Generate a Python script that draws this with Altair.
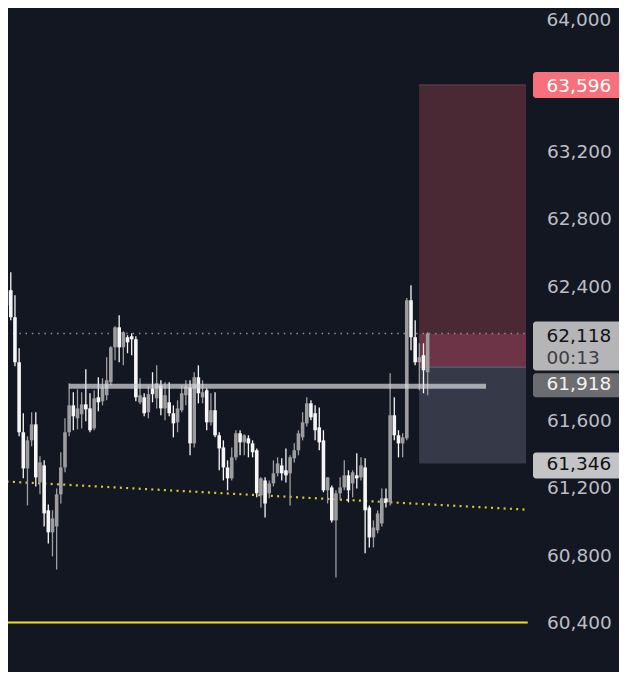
import altair as alt
import pandas as pd

# ---------------- data ----------------
opens = [62286, 62376, 62215, 61947, 61531, 61316, 61483, 61578, 61233, 61334,
         61067, 60936, 60971, 61162, 61322, 61531, 61691, 61614, 61638, 61697,
         61673, 61554, 61739, 61715, 61751, 61828, 62036, 62155, 62036, 62096,
         62102, 62084, 61709, 61739, 61650, 61792, 61733, 61810, 61673, 61709,
         61644, 61590, 61662, 61751, 61798, 61465, 61858, 61739, 61781, 61590,
         61662, 61513, 61441, 61322, 61257, 61382, 61525, 61471, 61495, 61465,
         61424, 61156, 61245, 61168, 61227, 61287, 61334, 61305, 61287, 61376,
         61424, 61501, 61584, 61703, 61644, 61560, 61483, 61186, 61203, 61007,
         61168, 61203, 61275, 61227, 61275, 61263, 61322, 61084, 60906, 60948,
         60989, 61138, 61114, 61632, 61513, 61465, 61495, 62316, 62096, 61947,
         61989, 61888]
closes = [62376, 62215, 61947, 61531, 61316, 61483, 61578, 61263, 61352, 61049,
          60936, 61019, 61162, 61322, 61531, 61691, 61626, 61673, 61697, 61667,
          61543, 61733, 61709, 61798, 61840, 62036, 62155, 62036, 62126, 62066,
          62084, 61739, 61751, 61644, 61757, 61757, 61822, 61673, 61751, 61644,
          61584, 61673, 61763, 61804, 61465, 61858, 61763, 61769, 61590, 61662,
          61513, 61435, 61322, 61257, 61382, 61525, 61471, 61513, 61465, 61412,
          61168, 61257, 61108, 61227, 61287, 61346, 61287, 61275, 61382, 61424,
          61525, 61590, 61703, 61620, 61543, 61471, 61186, 61263, 61007, 61168,
          61203, 61275, 61186, 61293, 61257, 61334, 61067, 60906, 60965, 61049,
          61138, 61114, 61632, 61513, 61465, 61501, 62316, 62096, 61947, 61977,
          61900, 62118]
highs = [62453, 62483, 62346, 62030, 61644, 61507, 61650, 61650, 61388, 61364,
         61102, 61067, 61197, 61412, 61614, 61822, 61769, 61786, 61769, 61905,
         61763, 61781, 61858, 61852, 61977, 62042, 62161, 62227, 62132, 62108,
         62120, 62102, 61852, 61763, 61810, 61888, 61929, 61840, 61828, 61828,
         61691, 61721, 61810, 61840, 61840, 61888, 61929, 61840, 61792, 61763,
         61769, 61531, 61483, 61364, 61441, 61543, 61543, 61519, 61513, 61483,
         61435, 61263, 61263, 61245, 61364, 61382, 61376, 61435, 61394, 61465,
         61543, 61650, 61739, 61721, 61691, 61679, 61543, 61263, 61215, 61186,
         61263, 61364, 61305, 61305, 61406, 61382, 61376, 61096, 61007, 61067,
         61197, 61197, 61882, 61739, 61543, 61525, 62330, 62405, 62197, 62060,
         62060, 62126]
lows = [62138, 62197, 61923, 61507, 61257, 61096, 61447, 61209, 61162, 60971,
        60870, 60793, 60715, 61108, 61293, 61507, 61543, 61548, 61554, 61596,
        61531, 61543, 61656, 61691, 61721, 61810, 61959, 61947, 61929, 62001,
        61989, 61715, 61697, 61626, 61614, 61709, 61673, 61632, 61602, 61626,
        61501, 61531, 61650, 61691, 61394, 61441, 61703, 61703, 61543, 61572,
        61501, 61305, 61245, 61186, 61245, 61364, 61394, 61394, 61382, 61382,
        61144, 61084, 61025, 61138, 61209, 61269, 61245, 61233, 61096, 61352,
        61394, 61483, 61566, 61602, 61483, 61424, 61174, 61108, 60995, 60668,
        61126, 61186, 61114, 61144, 61197, 61245, 60811, 60846, 60846, 60930,
        60971, 61084, 61096, 61483, 61382, 61382, 61483, 62019, 61929, 61781,
        61763, 61751]

axis_ticks = [64000, 63200, 62800, 62400, 61600, 61200, 60800, 60400]

target_price = 63596
entry_price = 61918
stop_price = 61346
last_price = 62118
countdown = "00:13"
support_level = 61804
support_span = [15, 115]            # bar index
trend_pts = [[0, 61238], [124.6, 61071]]  # bar index, price
floor_level = 60400
box_span = [98.94, 124.6]           # bar index

# ---------------- styling ----------------
BG = "#131722"
UP = "#9d9da0"
DOWN = "#f6f6f6"
FONT = "DejaVu Sans"
FS = 18.5
AXIS_COL = "#bcbec6"
TEXT_X = 538.5   # left edge of scale texts (px)

W, H = 523, 664
X_DOMAIN = [1.53, 124.59]
Y_DOMAIN = [60105.7, 64053.5]
UPP = (Y_DOMAIN[1] - Y_DOMAIN[0]) / H  # price units per pixel

xs = alt.Scale(domain=X_DOMAIN, nice=False, zero=False)
ys = alt.Scale(domain=Y_DOMAIN, nice=False, zero=False)
yaxis = alt.Axis(orient="right", values=axis_ticks[1:], format=",d", labelAlign="left",
                 labelBaseline="middle", labelPadding=TEXT_X - W, ticks=False, tickSize=0,
                 domain=False, grid=False, labelFont=FONT, labelFontSize=FS,
                 labelColor=AXIS_COL, title=None, labelOverlap=False)


def Y(f):
    return alt.Y(f, type="quantitative", scale=ys, axis=yaxis)


def X(f):
    return alt.X(f, type="quantitative", scale=xs, axis=None)


n = len(opens)
candles = pd.DataFrame({
    "i": list(range(n)), "open": opens, "close": closes,
    "high": highs, "low": lows,
    "dir": ["up" if c >= o else "down" for o, c in zip(opens, closes)],
})
color = alt.Color("dir:N", scale=alt.Scale(domain=["up", "down"], range=[UP, DOWN]), legend=None)

# position tool box
box = pd.DataFrame({
    "x0": [box_span[0]] * 3, "x1": [box_span[1]] * 3,
    "top": [target_price, last_price, entry_price],
    "bot": [last_price, entry_price, stop_price],
    "fill": ["#4a2934", "#6c3446", "#353948"],
})
box_layer = alt.Chart(box).mark_rect(clip=True).encode(
    x=X("x0"), x2="x1", y=Y("top"), y2="bot",
    color=alt.Color("fill:N", scale=None))

edges = pd.DataFrame({"x0": [box_span[0]] * 2, "x1": [box_span[1]] * 2,
                      "y": [target_price, entry_price],
                      "c": ["#5a3a46", "#555866"]})
edge_layer = alt.Chart(edges).mark_rule(strokeWidth=1.5, clip=True).encode(
    x=X("x0"), x2="x1", y=Y("y"), color=alt.Color("c:N", scale=None))

# lines
last_line = alt.Chart(pd.DataFrame({"x0": [0], "x1": [125], "y": [last_price]})).mark_rule(
    color="#8e9097", strokeWidth=1.5, strokeDash=[1.5, 4.8], clip=True).encode(
    x=X("x0"), x2="x1", y=Y("y"))

trend = alt.Chart(pd.DataFrame({"x0": [trend_pts[0][0]], "x1": [trend_pts[1][0]],
                                "y0": [trend_pts[0][1]], "y1": [trend_pts[1][1]]})).mark_rule(
    color="#d6cc2e", strokeWidth=2.2, strokeDash=[2, 4.3], clip=True).encode(
    x=X("x0"), x2="x1", y=Y("y0"), y2="y1")

floor = alt.Chart(pd.DataFrame({"x0": [0], "x1": [125], "y": [floor_level]})).mark_rule(
    color="#efe02c", strokeWidth=2.2, clip=True).encode(
    x=X("x0"), x2="x1", y=Y("y"))

# candles
wicks = alt.Chart(candles).mark_rule(strokeWidth=1.3, clip=True).encode(
    x=X("i"), y=Y("low"), y2="high", color=color)
bodies = alt.Chart(candles).mark_bar(size=3.6, clip=True).encode(
    x=X("i"), y=Y("open"), y2="close", color=color)

support = alt.Chart(pd.DataFrame({"x0": [support_span[0]], "x1": [support_span[1]],
                                  "y": [support_level]})).mark_rule(
    color="#d4d5d9", strokeWidth=5, opacity=0.72, clip=True).encode(
    x=X("x0"), x2="x1", y=Y("y"))

# top scale value (drawn a touch lower so it is not cut by the edge)
top_tick = alt.Chart(pd.DataFrame({"v": axis_ticks[:1], "txt": [f"{axis_ticks[0]:,}"]})).mark_text(
    align="left", baseline="middle", font=FONT, fontSize=FS, color=AXIS_COL, dy=3,
    clip=False).encode(x=alt.value(TEXT_X), y=Y("v"), text="txt:N")

# price label boxes on the scale
lab_vals = [target_price, last_price, entry_price, stop_price]
lab_top_px = [13, 12, -6, 11]
lab_bot_px = [-13, -37, -30, -15]
lab_text_px = [-1, -2, -17, -1]
lab_fill = ["#f6717b", "#b5b5b8", "#6d6d71", "#c4c4c7"]
lab_col = ["#ffffff", "#111111", "#f2f2f2", "#111111"]
labels = pd.DataFrame({
    "v": lab_vals,
    "txt": [f"{v:,}" for v in lab_vals],
    "top": [v + t * UPP for v, t in zip(lab_vals, lab_top_px)],
    "bot": [v + b * UPP for v, b in zip(lab_vals, lab_bot_px)],
    "ty": [v + d * UPP for v, d in zip(lab_vals, lab_text_px)],
    "fill": lab_fill, "col": lab_col,
})
lab_boxes = alt.Chart(labels).mark_rect(cornerRadius=3, clip=False).encode(
    x=alt.value(525), x2=alt.value(614), y=Y("top"), y2="bot",
    color=alt.Color("fill:N", scale=None))
lab_text = alt.Chart(labels).mark_text(align="left", baseline="middle", font=FONT,
                                       fontSize=FS, clip=False).encode(
    x=alt.value(TEXT_X), y=Y("ty"), text="txt:N", color=alt.Color("col:N", scale=None))
cd = alt.Chart(pd.DataFrame({"ty": [last_price - 24 * UPP], "txt": [countdown]})).mark_text(
    align="left", baseline="middle", font=FONT, fontSize=FS, color="#3c3c3e", clip=False).encode(
    x=alt.value(TEXT_X), y=Y("ty"), text="txt:N")

chart = alt.layer(
    box_layer, edge_layer, last_line, trend, floor, wicks, bodies, support,
    top_tick, lab_boxes, lab_text, cd
).properties(
    width=W, height=H,
    autosize=alt.AutoSizeParams(type="none"),
    padding={"left": 0, "top": 0, "right": 88, "bottom": 0},
    background=BG,
).configure_view(stroke=None, fill=BG)

chart.save("out.html", embed_options={"renderer": "svg", "actions": False})
